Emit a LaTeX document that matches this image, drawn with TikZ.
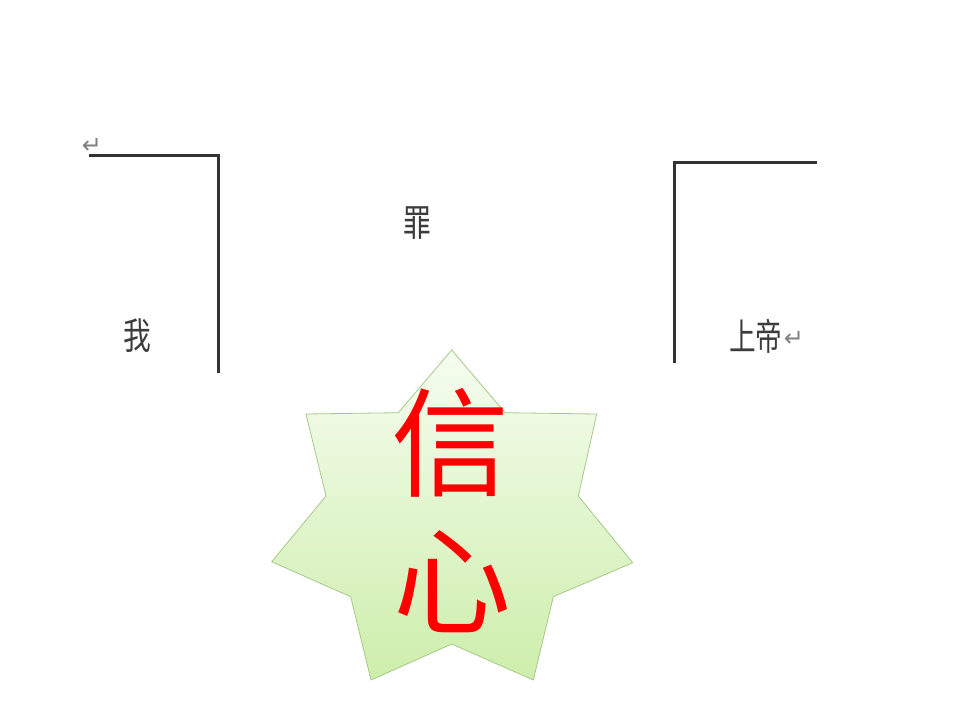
\documentclass[tikz,border=0pt]{standalone}
\usepackage{fontspec}
\newfontfamily\cjk{Noto Sans CJK SC}
\newfontfamily\symfont{DejaVu Sans}
\definecolor{linegray}{HTML}{333333}
\definecolor{textgray}{HTML}{3C3C3C}
\definecolor{startop}{HTML}{F6FDF0}
\definecolor{starbot}{HTML}{CDEEAB}
\definecolor{starline}{HTML}{A6C98A}
\tikzset{
  bracket/.style={draw=linegray, line width=3pt, line cap=butt, line join=miter},
  smalltext/.style={inner sep=0pt, text=textgray, font=\cjk\fontsize{37}{40}\selectfont},
  bigtext/.style={inner sep=0pt, text=red, font=\cjk\fontsize{118}{120}\selectfont},
  retmark/.style={inner sep=0pt, text=gray, font=\symfont\fontsize{24}{26}\selectfont},
  starshape/.style={draw=starline, line width=0.8pt, top color=startop, bottom color=starbot}
}
\begin{document}
\begin{tikzpicture}[x=1pt, y={(0pt,-1pt)}]
\useasboundingbox (0,0) rectangle (960,720);
% left bracket
\draw[bracket] (89,155) -- (218,155) -- (218,373);
\node[retmark] (ret1) at (92,146) {↵};
\node[smalltext] (wo) at (137,336) {\scalebox{0.75}[1]{我}};
% middle
\node[smalltext] (zui) at (417,223) {\scalebox{0.75}[1]{罪}};
% right bracket
\draw[bracket] (817,162) -- (674,162) -- (674,363);
\node[smalltext, anchor=west] (shangdi) at (729,336) {\scalebox{0.72}[1]{上帝}};
\node[retmark, anchor=west] (ret2) at ([xshift=1pt,yshift=-3pt]shangdi.east) {↵};
% star
\path[starshape] (451.7,350) -- (505,412.7) -- (596.7,414) -- (578.3,496)
  -- (632.7,562.7) -- (553.3,596.7) -- (533.3,680) -- (451.7,644)
  -- (371,680) -- (350.7,596.7) -- (271.7,561.7) -- (326,496)
  -- (306,414) -- (398.3,412.7) -- cycle;
\node[bigtext] (xin) at (450,443) {信};
\node[bigtext] (xinxin) at (452,582) {心};
\end{tikzpicture}
\end{document}
